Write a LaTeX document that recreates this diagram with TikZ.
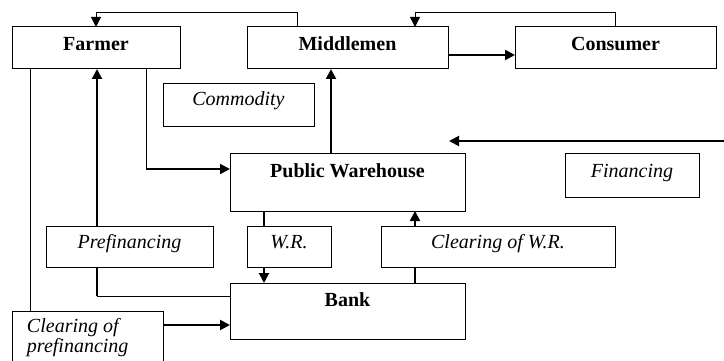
\documentclass[tikz,border=0pt]{standalone}
\usepackage{fontspec}
\setmainfont{Liberation Serif}
\usetikzlibrary{arrows.meta}

\begin{document}
\begin{tikzpicture}[x=1pt, y=-1pt,
  box/.style={draw, line width=1pt, inner sep=0pt, outer sep=0pt, anchor=north west,
    font=\fontsize{20}{20}\selectfont\bfseries},
  lbl/.style={box, font=\fontsize{20}{20}\selectfont\itshape},
  thk/.style={line width=2pt},
  thn/.style={line width=1pt},
  tip/.style={-{Triangle[length=10pt,width=10pt]}}]
\useasboundingbox (0,0) rectangle (724,361);

% boxes, placed by their top left corner (y grows downwards)
\node[box, minimum width=168pt, text height=24pt, text depth=18pt] (farmer) at (12,27) {Farmer};
\node[box, minimum width=201pt, text height=24pt, text depth=18pt] (middle) at (247,27) {Middlemen};
\node[box, minimum width=201pt, text height=24pt, text depth=18pt] (consumer) at (515,27) {Consumer};
\node[lbl, minimum width=151pt, text height=22pt, text depth=21pt] (commodity) at (163,84) {Commodity};
\node[box, minimum width=235pt, text height=23.5pt, text depth=33.5pt] (pwh) at (230,154) {Public Warehouse};
\node[lbl, minimum width=134pt, text height=23pt, text depth=20pt] (financing) at (565,154) {Financing};
\node[lbl, minimum width=167pt, text height=22pt, text depth=19pt] (prefin) at (46,226) {Prefinancing};
\node[lbl, minimum width=84pt, text height=22pt, text depth=19pt] (wr) at (247,226) {W.R.};
\node[lbl, minimum width=234pt, text height=22pt, text depth=19pt] (clrwr) at (381,226) {Clearing of W.R.};
\node[box, minimum width=235pt, text height=23pt, text depth=33pt] (bank) at (230,283) {Bank};
% box runs past the lower edge of the page
\node[lbl, inner xsep=15pt, text height=21pt, text depth=100pt] (clrpre) at (12,311)
  {\parbox[t]{121pt}{Clearing of\\prefinancing}};

% helper points
\coordinate (topline) at (0,13);
\coordinate (m1) at ([xshift=50pt]middle.north west);
\coordinate (m2) at ([xshift=-33pt]middle.north east);
\coordinate (f1) at ([xshift=18pt]farmer.south west);
\coordinate (f2) at ([xshift=-34pt]farmer.south east);
\coordinate (p1) at ([xshift=51pt]prefin.north west);
\coordinate (w1) at ([xshift=34pt]pwh.south west);
\coordinate (w2) at ([xshift=185pt]bank.north west);
\coordinate (up1) at ([xshift=101pt]pwh.north west);
\coordinate (b1) at ([yshift=-14pt]bank.west);
\coordinate (finA) at (724,141);
\coordinate (finB) at (449,141);
\path (f2 |- pwh.west) ++(0,-13.5) coordinate (f3);
\path (p1 |- bank.west) ++(0,-15) coordinate (p2);

% money / paper flows
\draw[thn, tip] (m1) |- (topline -| farmer.north) -- (farmer.north);
\draw[thn, tip] (consumer.north) |- (topline -| m2) -- (m2);
\draw[thk, tip] ([yshift=-7pt]middle.east) -- ([yshift=-7pt]consumer.west);
\draw[thn] (f2) -- (f3);
\draw[thk, tip] (f3) -- (f3 -| pwh.west);
\draw[thk, tip] (up1) -- (up1 |- middle.south);
\draw[thk, tip] (finA) -- (finB);
\draw[thk, tip] (p1) -- (p1 |- farmer.south);
\draw[thk] (p1 |- prefin.south) -- (p2);
\draw[thn] (p2) -- (p2 -| bank.west);
\draw[thk] (w1) -- (w1 |- wr.north);
\draw[thk, tip] (w1 |- wr.south) -- (w1 |- bank.north);
\draw[thk] (w2) -- (w2 |- clrwr.south);
\draw[thk, tip] (w2 |- clrwr.north) -- (w2 |- pwh.south);
\draw[thk, tip] (b1 -| clrpre.east) -- (b1);
\draw[thn] (f1) -- (f1 |- clrpre.north);
\end{tikzpicture}
\end{document}
